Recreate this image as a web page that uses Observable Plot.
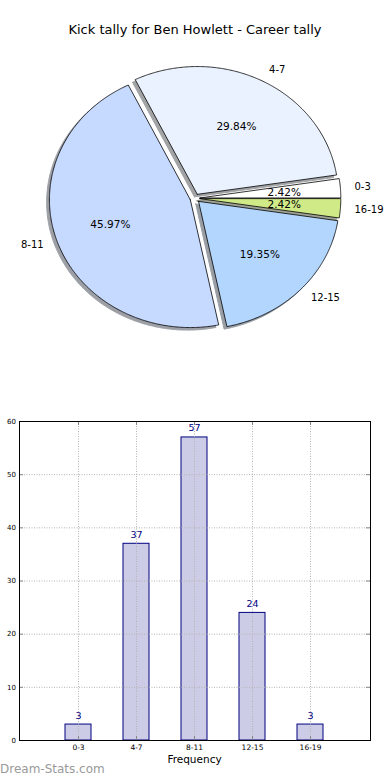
<!DOCTYPE html>
<html><head><meta charset="utf-8">
<script src="https://cdn.jsdelivr.net/npm/d3@7"></script>
<script src="https://cdn.jsdelivr.net/npm/@observablehq/plot@0.6"></script>
<style>
html,body{margin:0;padding:0;background:#fff}
body{width:390px;height:780px;position:relative;overflow:hidden;font-family:"DejaVu Sans",sans-serif;color:#000}
#pie{position:absolute;left:0;top:0}
#bar{position:absolute;left:0;top:400px}
#title{position:absolute;left:0;top:22px;width:390px;text-align:center;font-size:13px;line-height:15px}
#xlabel{position:absolute;left:19px;width:351px;top:753px;text-align:center;font-size:10.5px;line-height:13px}
#wm{position:absolute;left:0;top:762px;font-size:12px;line-height:15px;color:#9a9a9a}
svg{font-family:"DejaVu Sans",sans-serif}
</style></head><body>
<div id="pie"></div>
<div id="bar"></div>
<div id="title">Kick tally for Ben Howlett - Career tally</div>
<div id="xlabel">Frequency</div>
<div id="wm">Dream-Stats.com</div>
<script>
// ---- data ----
const categories = ["0-3", "4-7", "8-11", "12-15", "16-19"];
const counts = [3, 37, 57, 24, 3];
const yTicks = [0, 10, 20, 30, 40, 50, 60];
const chartTitle = "Kick tally for Ben Howlett - Career tally";
const xAxisLabel = "Frequency";

// ---- styles ----
const sliceColors = ["#ffffff", "#eaf2ff", "#c6d9ff", "#b3d6ff", "#d0ea88"];
const barFill = "#ccccE6";
const barStroke = "#000080";

// ---- pie geometry (data units: radius 1) ----
const total = d3.sum(counts);
const explode = 0.035;
let acc = 0;
const slices = categories.map((cat, i) => {
  const a0 = acc, a1 = acc + counts[i] / total * 360;
  acc = a1;
  const mid = (a0 + a1) / 2 * Math.PI / 180;
  return {cat, i, a0, a1, mid, ox: explode * Math.cos(mid), oy: explode * Math.sin(mid),
          color: sliceColors[i], pct: (counts[i] / total * 100).toFixed(2) + "%"};
});
function slicePoints(s, dx, dy, key) {
  const pts = [];
  const cx0 = s.ox + dx, cy0 = s.oy + dy;
  pts.push({k: key, x: cx0, y: cy0});
  const n = Math.max(4, Math.ceil((s.a1 - s.a0) / 0.5));
  for (let j = 0; j <= n; j++) {
    const a = (s.a0 + (s.a1 - s.a0) * j / n) * Math.PI / 180;
    pts.push({k: key, x: cx0 + Math.cos(a), y: cy0 + Math.sin(a)});
  }
  pts.push({k: key, x: cx0, y: cy0});
  return pts;
}
const wedgeRows = slices.flatMap(s => slicePoints(s, 0, 0, s.cat).map(p => ({...p, color: s.color})));
const shadowRows = slices.flatMap(s => {
  const c = d3.rgb(s.color);
  const sc = d3.rgb(c.r * 0.3, c.g * 0.3, c.b * 0.3).formatHex();
  return slicePoints(s, -0.02, -0.02, "sh" + s.cat).map(p => ({...p, color: sc}));
});
const labelRows = slices.map(s => ({x: s.ox + 1.1 * Math.cos(s.mid), y: s.oy + 1.1 * Math.sin(s.mid), text: s.cat}));
const pctRows = slices.map(s => ({x: s.ox + 0.6 * Math.cos(s.mid), y: s.oy + 0.6 * Math.sin(s.mid), text: s.pct}));

const PW = 390, PH = 380, pcx = 194.5, pcy = 197.8, rx = 140.9, ry = 127.8;
const pie = Plot.plot({
  width: PW, height: PH, margin: 0,
  x: {domain: [-pcx / rx, (PW - pcx) / rx], range: [0, PW], axis: null},
  y: {domain: [(pcy - PH) / ry, pcy / ry], range: [PH, 0], axis: null},
  color: {type: "identity"},
  style: {fontFamily: "DejaVu Sans", background: "transparent"},
  marks: [
    Plot.line(shadowRows, {x: "x", y: "y", z: "k", fill: "color", stroke: "color", strokeWidth: 1, opacity: 0.5, curve: "linear"}),
    Plot.line(wedgeRows, {x: "x", y: "y", z: "k", fill: "color", stroke: "#000", strokeWidth: 0.8, curve: "linear"}),
    Plot.text(labelRows.filter(d => d.x > 0), {x: "x", y: "y", text: "text", textAnchor: "start", fontSize: 10, fill: "#000"}),
    Plot.text(labelRows.filter(d => d.x <= 0), {x: "x", y: "y", text: "text", textAnchor: "end", fontSize: 10, fill: "#000"}),
    Plot.text(pctRows, {x: "x", y: "y", text: "text", fontSize: 10.5, fill: "#000"})
  ]
});
document.getElementById("pie").appendChild(pie);

// ---- bar chart ----
const bars = categories.map((cat, i) => ({cat, count: counts[i]}));
const BW = 390, BH = 380, mT = 21, mB = 40, mL = 19, mR = 20;
const innerH = BH - mT - mB, innerW = BW - mL - mR;
const bar = Plot.plot({
  width: BW, height: BH, marginTop: mT, marginBottom: mB, marginLeft: mL, marginRight: mR,
  x: {type: "band", domain: categories, paddingInner: 0.55, paddingOuter: 0.775, label: null},
  y: {domain: [0, 60], label: null},
  style: {fontFamily: "DejaVu Sans", background: "transparent"},
  marks: [
    Plot.barY(bars, {x: "cat", y: "count", fill: barFill, stroke: barStroke, strokeWidth: 1}),
    Plot.ruleY(yTicks, {y: d => d, stroke: "#b4b4b4", strokeDasharray: "1,1.5", strokeWidth: 1}),
    Plot.tickX(categories, {x: d => d, stroke: "#b4b4b4", strokeDasharray: "1,1.5", strokeWidth: 1}),
    Plot.tickY(yTicks, {y: d => d, stroke: "#888", insetRight: innerW - 4}),
    Plot.tickY(yTicks, {y: d => d, stroke: "#888", insetLeft: innerW - 4}),
    Plot.tickX(categories, {x: d => d, stroke: "#888", insetBottom: innerH - 4}),
    Plot.tickX(categories, {x: d => d, stroke: "#888", insetTop: innerH - 4}),
    Plot.frame({stroke: "#000", strokeWidth: 1}),
    Plot.text(bars, {x: "cat", y: "count", text: d => String(d.count), dy: -9, fill: barStroke, fontSize: 9.5, stroke: "#fff", strokeWidth: 0, paintOrder: "stroke"}),
    Plot.axisY(yTicks, {tickSize: 0, tickPadding: 3.5, fontSize: 7, label: null, fill: "#000"}),
    Plot.axisX(categories, {tickSize: 0, tickPadding: 4, fontSize: 7.5, label: null, fill: "#000"})
  ]
});
document.getElementById("bar").appendChild(bar);
</script>
</body></html>
